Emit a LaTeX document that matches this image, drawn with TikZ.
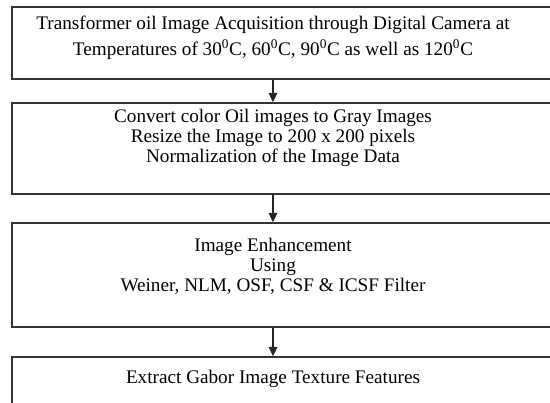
\documentclass[tikz,border=0pt]{standalone}
\usepackage{fontspec}
\setmainfont{Liberation Serif}
\usepackage{tikz}
\usetikzlibrary{fit,arrows.meta}
\tikzstyle{frame}=[draw=black!80,line width=1.1pt,inner sep=0pt]
\tikzstyle{txt}=[align=center,inner sep=0pt,
                 font=\fontsize{14.4}{15}\selectfont]
\tikzstyle{arr}=[draw=black!85,line width=0.8pt,
                 -{Triangle[length=7pt,width=6.5pt]}]

\begin{document}
\begin{tikzpicture}[x=0.75pt,y=0.75pt]
    \useasboundingbox (0,0) rectangle (550,-403);
    \node (f1) [frame,fit={(12,-7) (560,-79)}]{};
    \node (f2) [frame,fit={(12,-103) (560,-194)}]{};
    \node (f3) [frame,fit={(12,-223) (560,-327)}]{};
    \node (f4) [frame,fit={(12,-357) (560,-430)}]{};
    \node (t1) at (273,-38) [txt]{Transformer oil Image Acquisition through Digital Camera at\\[4.5pt]
      Temperatures of 30\textsuperscript{0}C, 60\textsuperscript{0}C,
      90\textsuperscript{0}C as well as 120\textsuperscript{0}C};
    \node (t2) at (273,-138) [txt]{Convert color Oil images to Gray Images\\
      Resize the Image to 200 x 200 pixels\\
      Normalization of the Image Data};
    \node (t3) at (273,-266) [txt]{Image Enhancement\\ Using\\
      Weiner, NLM, OSF, CSF \& ICSF Filter};
    \node (t4) at (273,-379) [txt]{Extract Gabor Image Texture Features};
    \draw[arr] (f1.south -| t1) -- (f2.north -| t1);
    \draw[arr] (f2.south -| t2) -- (f3.north -| t2);
    \draw[arr] (f3.south -| t3) -- (f4.north -| t3);
  \end{tikzpicture}
\end{document}
